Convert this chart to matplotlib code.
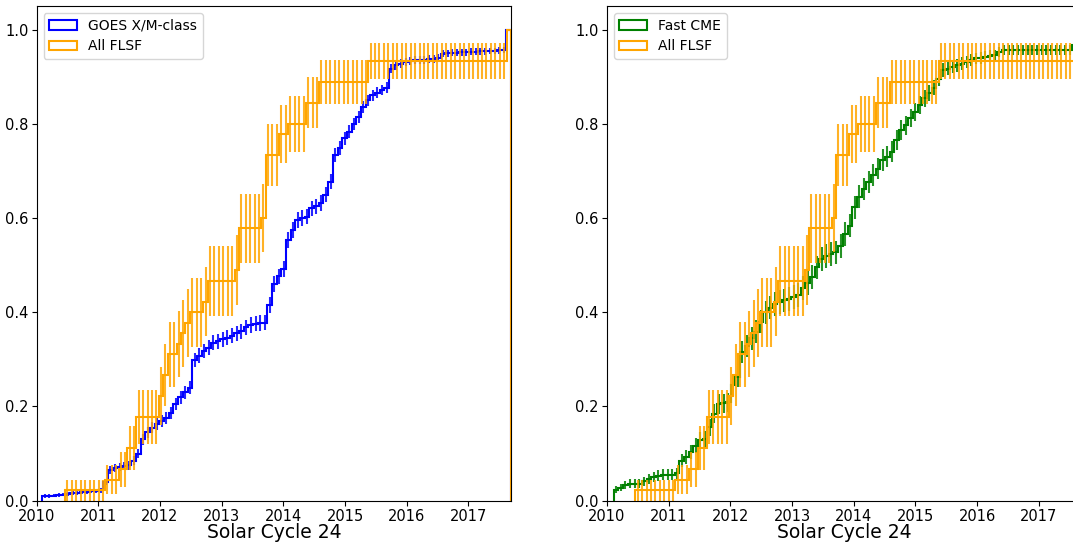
import numpy as np
import matplotlib.pyplot as plt

# decimal-year dates of the 45 FLSF events
flsf_dates = [2010.46,
              2011.13, 2011.39, 2011.52, 2011.52,
              2011.68, 2011.68, 2011.68,
              2012.02, 2012.02, 2012.11, 2012.11, 2012.17, 2012.17,
              2012.32, 2012.41, 2012.46, 2012.55, 2012.76, 2012.83, 2012.83,
              2013.27, 2013.31, 2013.31, 2013.31, 2013.31,
              2013.69, 2013.73, 2013.73, 2013.73, 2013.77, 2013.77, 2013.77,
              2013.97, 2013.97, 2014.12, 2014.41, 2014.41, 2014.62, 2014.62,
              2015.43, 2015.43,
              2017.69, 2017.69, 2017.69]

# GOES X/M-class flares: cumulative fraction in each of 100 bins
goes_range = (2010.09, 2017.69)
goes_total = 900
goes_cum = [0.010, 0.010, 0.011, 0.012, 0.013, 0.015, 0.016, 0.017, 0.018, 0.019,
            0.020, 0.021, 0.022, 0.040, 0.065, 0.070, 0.072, 0.073, 0.075, 0.085,
            0.100, 0.130, 0.145, 0.155, 0.163, 0.170, 0.176, 0.186, 0.205, 0.220,
            0.230, 0.240, 0.298, 0.308, 0.318, 0.325, 0.335, 0.338, 0.343, 0.346,
            0.350, 0.355, 0.360, 0.368, 0.373, 0.376, 0.377, 0.378, 0.415, 0.460,
            0.476, 0.492, 0.553, 0.575, 0.596, 0.600, 0.603, 0.621, 0.625, 0.632,
            0.649, 0.677, 0.734, 0.748, 0.769, 0.783, 0.800, 0.815, 0.836, 0.850,
            0.861, 0.866, 0.872, 0.877, 0.917, 0.924, 0.928, 0.932, 0.934, 0.935,
            0.935, 0.936, 0.937, 0.938, 0.940, 0.949, 0.950, 0.951, 0.951, 0.952,
            0.952, 0.953, 0.953, 0.954, 0.954, 0.955, 0.955, 0.956, 0.957, 1.000]

# fast CMEs: cumulative fraction in each of 100 bins
cme_range = (2010.11, 2017.69)
cme_total = 390
cme_cum = [0.023, 0.028, 0.033, 0.036, 0.036, 0.036, 0.041, 0.046, 0.050, 0.053,
           0.055, 0.055, 0.055, 0.058, 0.085, 0.092, 0.103, 0.117, 0.128, 0.130,
           0.156, 0.185, 0.205, 0.207, 0.209, 0.245, 0.263, 0.316, 0.328, 0.345,
           0.359, 0.380, 0.400, 0.410, 0.418, 0.422, 0.425, 0.428, 0.432, 0.437,
           0.451, 0.462, 0.474, 0.495, 0.513, 0.520, 0.523, 0.527, 0.541, 0.566,
           0.584, 0.623, 0.645, 0.662, 0.677, 0.691, 0.705, 0.723, 0.730, 0.741,
           0.766, 0.787, 0.797, 0.812, 0.826, 0.840, 0.854, 0.865, 0.877, 0.896,
           0.914, 0.917, 0.921, 0.924, 0.928, 0.932, 0.935, 0.939, 0.940, 0.942,
           0.944, 0.946, 0.953, 0.956, 0.956, 0.956, 0.956, 0.956, 0.956, 0.956,
           0.956, 0.956, 0.956, 0.956, 0.956, 0.956, 0.956, 0.956, 0.967, 1.000]

year_ticks = [2010, 2011, 2012, 2013, 2014, 2015, 2016, 2017]
nbins = 100


# draws a cumulative step curve with binomial error bars at the bin centres
def draw_cdf(ax, edges, cum, total, color, label):
    cum = np.asarray(cum)
    centers = 0.5 * (edges[:-1] + edges[1:])
    ax.hist(centers, bins=edges, weights=cum, histtype='step',
            color=color, lw=1.5, label=label)
    err = np.sqrt(cum * (1 - cum) / total)
    ax.errorbar(centers, cum, yerr=err, fmt='none', ecolor=color,
                elinewidth=1.5, alpha=0.85)


# the FLSF curve is built straight from the event dates
def draw_flsf(ax):
    n, edges, _ = ax.hist(flsf_dates, bins=nbins, cumulative=True, density=True,
                          histtype='step', color='orange', lw=1.5, label='All FLSF')
    centers = 0.5 * (edges[:-1] + edges[1:])
    err = np.sqrt(n * (1 - n) / len(flsf_dates))
    ax.errorbar(centers, n, yerr=err, fmt='none', ecolor='orange',
                elinewidth=1.5, alpha=0.85)


def style_axes(ax):
    ax.set_xlim(2010, 2017.69)
    ax.set_ylim(0, 1.05)
    ax.set_xticks(year_ticks)
    ax.set_yticks([0.0, 0.2, 0.4, 0.6, 0.8, 1.0])
    ax.tick_params(labelsize=10.5, pad=2.5)
    ax.set_xlabel('Solar Cycle 24', fontsize=13.5, labelpad=-1)
    ax.legend(loc='upper left', fontsize=10)


fig = plt.figure(figsize=(10.73, 5.43), dpi=100)
ax1 = fig.add_axes([0.0342, 0.0779, 0.442, 0.911])
ax2 = fig.add_axes([0.5657, 0.0779, 0.442, 0.911])

goes_edges = np.linspace(goes_range[0], goes_range[1], nbins + 1)
draw_cdf(ax1, goes_edges, goes_cum, goes_total, 'blue', 'GOES X/M-class')
draw_flsf(ax1)
style_axes(ax1)

cme_edges = np.linspace(cme_range[0], cme_range[1], nbins + 1)
draw_cdf(ax2, cme_edges, cme_cum, cme_total, 'green', 'Fast CME')
draw_flsf(ax2)
style_axes(ax2)

fig.savefig('out.png', dpi=100)
